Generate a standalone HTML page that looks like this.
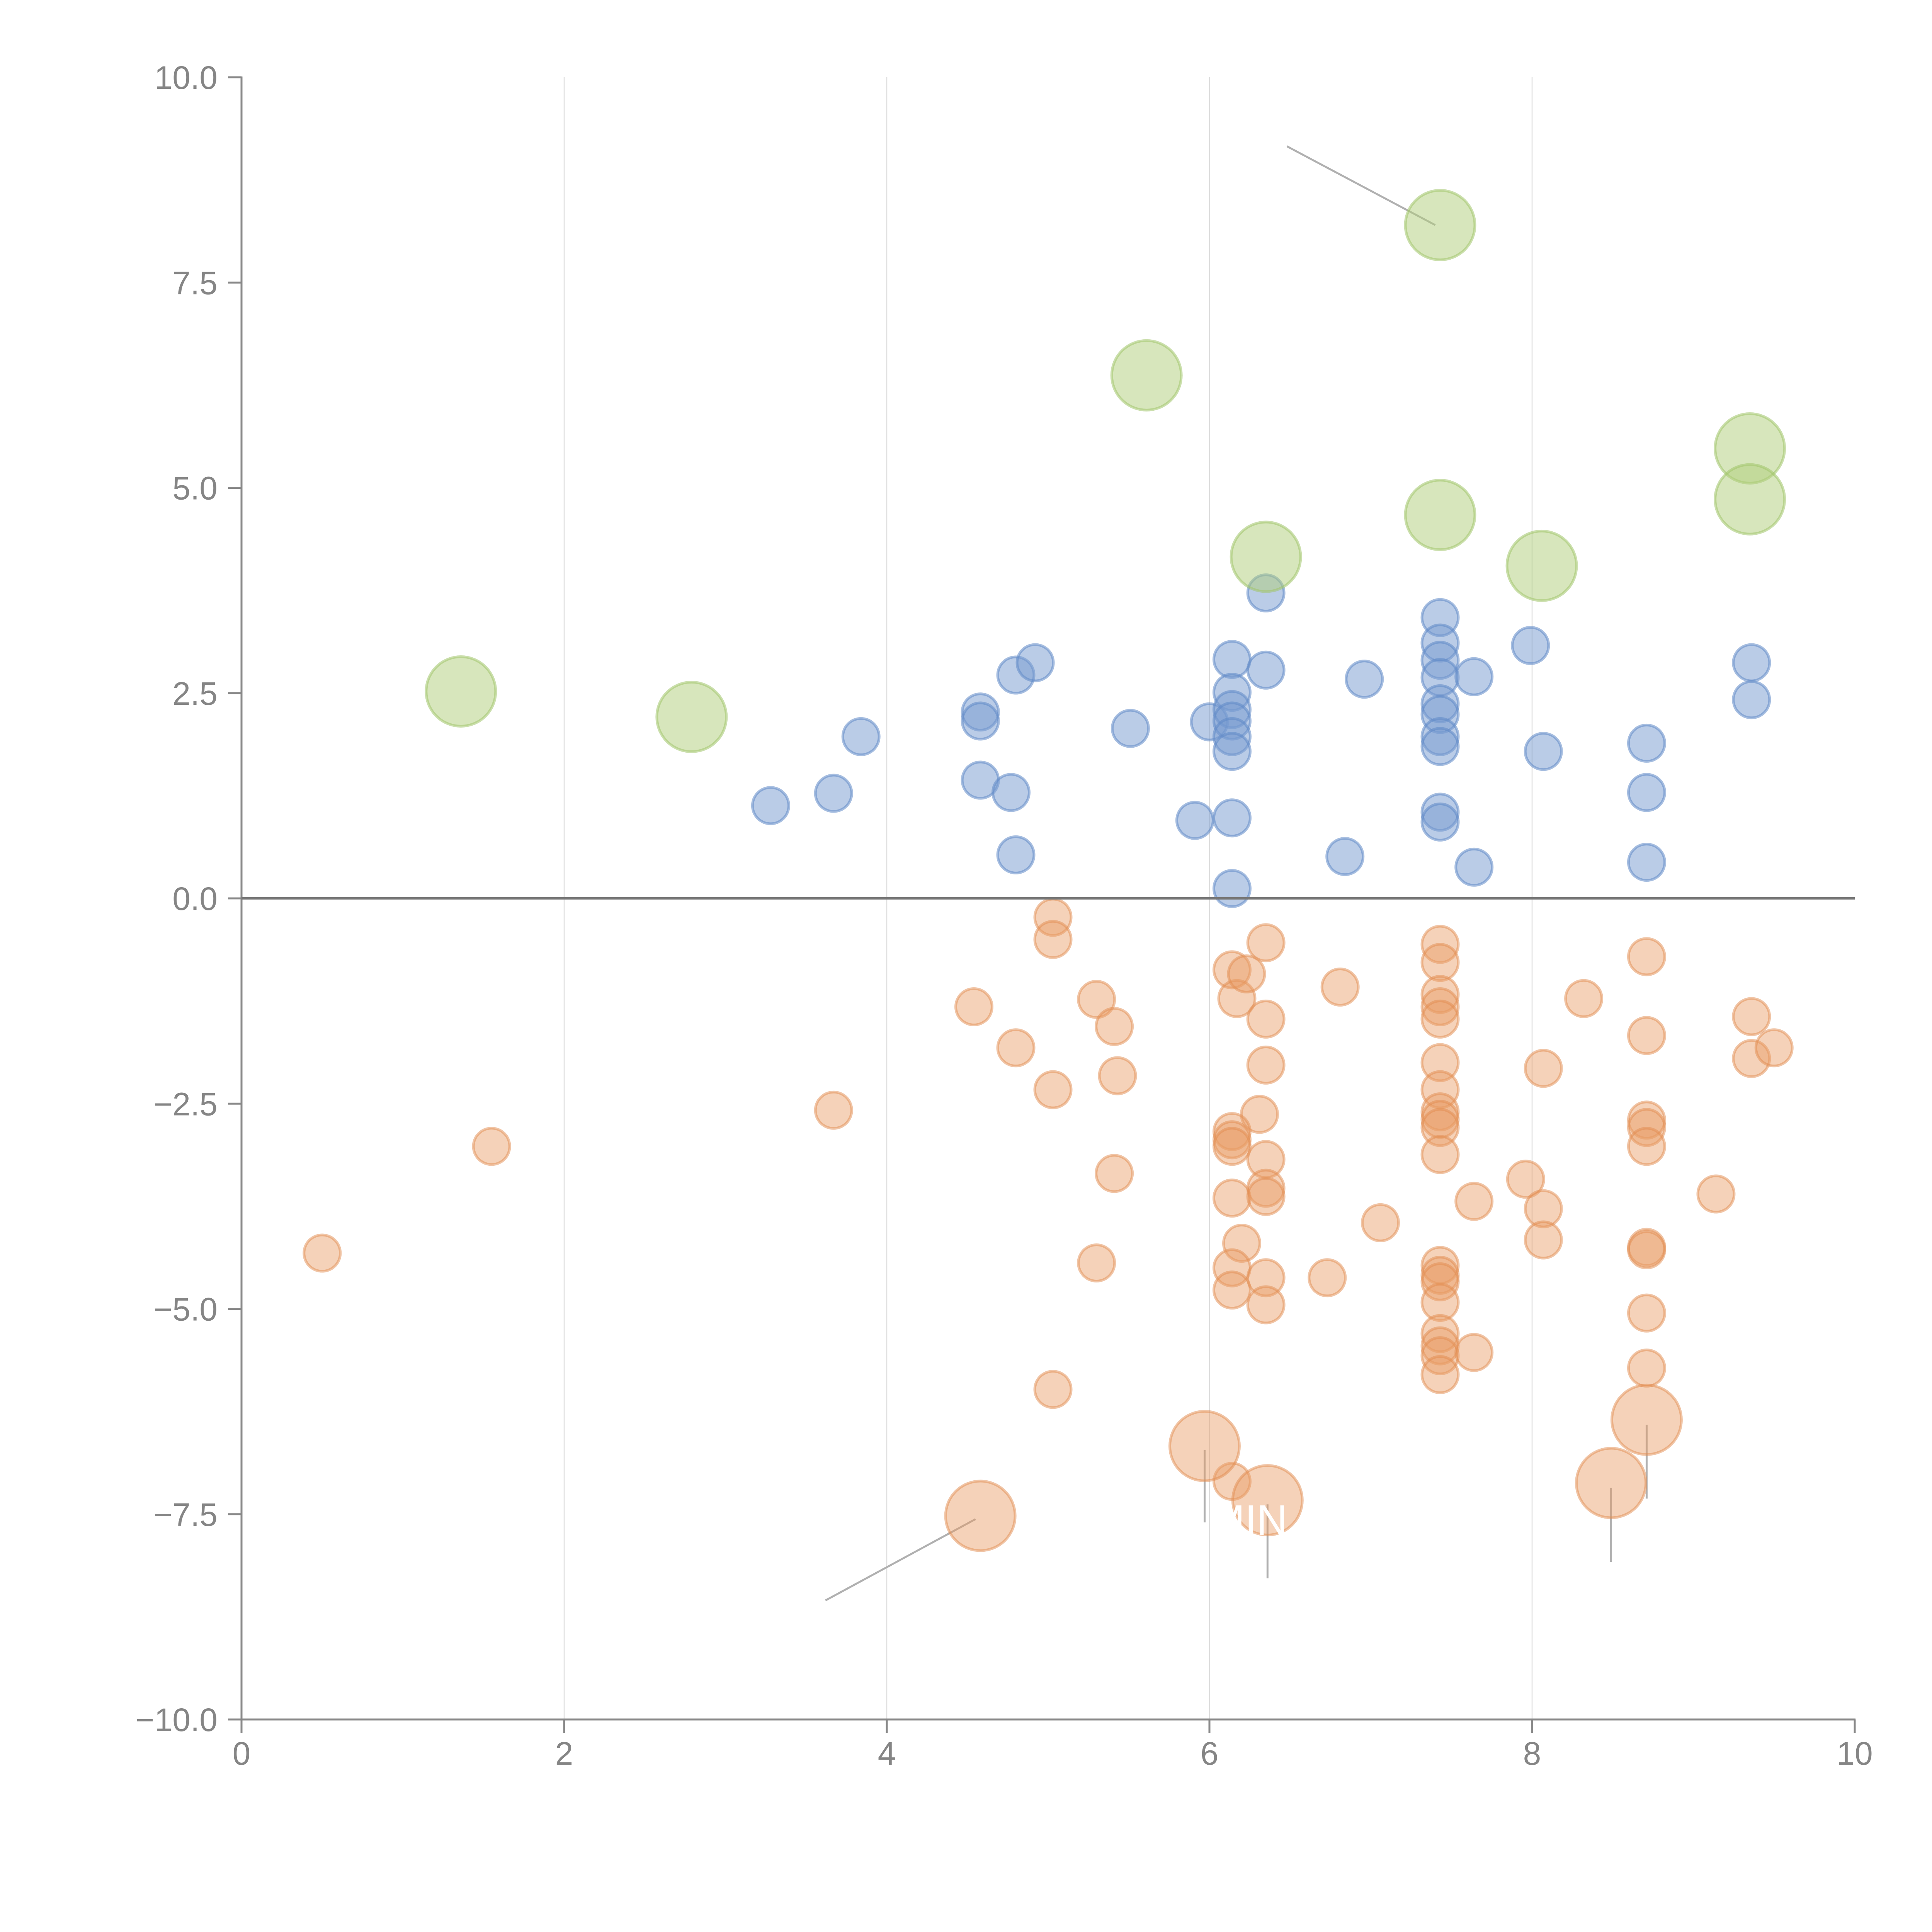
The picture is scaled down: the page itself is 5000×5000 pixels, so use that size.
<!DOCTYPE html>
<html><head><meta charset="utf-8"><style>
html,body{margin:0;padding:0;background:#fff;}
svg{display:block;font-family:"Liberation Sans",Arial,sans-serif;}
</style></head><body>
<svg id="chart" xmlns="http://www.w3.org/2000/svg" width="5000" height="5000" viewBox="0 0 5000 5000">
<rect width="5000" height="5000" fill="#fff"/>
<g id="grid"></g>
<g id="leaders"></g>
<g id="marks"></g>
<g id="axes"></g>
</svg>
<script>
const xTicks=[0,2,4,6,8,10];
const yTicks=[-10,-7.5,-5,-2.5,0,2.5,5,7.5,10];
const yTickLabels=["\u221210.0","\u22127.5","\u22125.0","\u22122.5","0.0","2.5","5.0","7.5","10.0"];
const blueX=[3.28,3.67,3.84,4.58,4.58,4.58,4.80,4.92,4.77,4.80,5.51,5.91,6.0,6.14,6.14,6.14,6.14,6.14,6.14,6.14,6.14,6.35,6.35,6.84,6.96,7.43,7.43,7.43,7.43,7.43,7.43,7.43,7.43,7.43,7.43,7.64,7.64,7.99,8.07,8.71,8.71,8.71,9.36,9.36];
const blueY=[1.13,1.28,1.97,2.27,2.16,1.44,2.72,2.87,1.29,0.53,2.07,0.95,2.15,2.91,2.51,2.30,2.16,1.97,1.79,0.98,0.12,3.72,2.78,0.51,2.67,3.42,3.11,2.90,2.69,2.37,2.24,1.97,1.85,1.05,0.93,2.70,0.38,3.08,1.79,1.89,1.29,0.44,2.87,2.42];
const orangeX=[0.50,1.55,3.67,4.54,4.80,5.03,5.03,5.03,5.03,5.30,5.30,5.41,5.43,5.41,6.14,6.17,6.23,6.35,6.35,6.35,6.31,6.14,6.14,6.14,6.14,6.20,6.14,6.14,6.35,6.35,6.35,6.35,6.35,6.73,6.81,7.06,7.43,7.43,7.43,7.43,7.43,7.43,7.43,7.43,7.43,7.43,7.43,7.43,7.43,7.43,7.43,7.43,7.43,7.43,7.43,7.64,7.64,7.96,8.07,8.07,8.07,8.32,8.71,8.71,8.71,8.71,8.71,8.71,8.71,8.71,8.71,9.14,9.36,9.36,9.50,6.14];
const orangeY=[-4.32,-3.02,-2.58,-1.32,-1.82,-0.23,-0.50,-2.33,-5.98,-1.23,-4.44,-1.56,-2.16,-3.35,-0.87,-1.22,-0.92,-0.54,-1.47,-2.03,-2.63,-2.84,-2.94,-3.02,-3.65,-4.20,-4.50,-4.77,-3.18,-3.53,-3.63,-4.62,-4.95,-4.62,-1.08,-3.95,-0.56,-0.78,-1.17,-1.32,-1.47,-2.00,-2.33,-2.60,-2.69,-2.79,-3.12,-4.47,-4.59,-4.67,-4.92,-5.30,-5.45,-5.57,-5.80,-3.69,-5.53,-3.42,-2.07,-3.78,-4.16,-1.22,-0.71,-1.67,-2.70,-2.79,-3.02,-4.25,-4.28,-5.05,-5.72,-3.60,-1.44,-1.95,-1.82,-7.10];
const orangeBigX=[4.58,5.97,6.36,8.49,8.71];
const orangeBigY=[-7.52,-6.67,-7.33,-7.12,-6.35];
const greenX=[1.36,2.79,5.61,6.35,7.43,7.43,8.06,9.35,9.35];
const greenY=[2.52,2.21,6.37,4.16,8.20,4.67,4.05,5.48,4.86];

const NS="http://www.w3.org/2000/svg";
const X0=625,X1=4800,Y0=4450,Y1=200;
function sx(v){return X0+(v-0)/(10-0)*(X1-X0);}
function sy(v){return Y0-(v+10)/20*(Y0-Y1);}
function mk(tag,attrs,parent){const e=document.createElementNS(NS,tag);for(const k in attrs)e.setAttribute(k,attrs[k]);parent.appendChild(e);return e;}
const grid=document.getElementById('grid'),axes=document.getElementById('axes'),marks=document.getElementById('marks'),leaders=document.getElementById('leaders');

xTicks.forEach(t=>{
  if(t>0&&t<10){const g=mk('line',{x1:sx(t),x2:sx(t),y1:sy(10),y2:sy(-10),stroke:'#dcdcdc','stroke-width':2.5},grid);
  
  }
  const tk=mk('line',{x1:sx(t),x2:sx(t),y1:Y0,y2:Y0+35,stroke:'#888','stroke-width':5},axes);
  
  
  const tx=mk('text',{x:sx(t),y:Y0+117,'text-anchor':'middle','font-size':84,fill:'#858585'},axes);
  tx.textContent=String(t);
  
  
});
yTicks.forEach((t,i)=>{
  const tk=mk('line',{x1:X0-35,x2:X0,y1:sy(t),y2:sy(t),stroke:'#888','stroke-width':5},axes);
  
  
  const tx=mk('text',{x:X0-62,y:sy(t)+30,'text-anchor':'end','font-size':84,fill:'#858585'},axes);
  tx.textContent=yTickLabels[i];
  
  
});
const ya=mk('line',{x1:X0,x2:X0,y1:Y1-2,y2:Y0,stroke:'#888','stroke-width':5},axes);


const xa=mk('line',{x1:X0-2,x2:X1+2,y1:Y0,y2:Y0,stroke:'#888','stroke-width':5},axes);


const zl=mk('line',{x1:X0,x2:X1,y1:sy(0),y2:sy(0),stroke:'#777','stroke-width':6},axes);



const leadA=[[6.48,9.16,7.40,8.20],[3.62,-8.55,4.55,-7.56],[5.97,-6.72,5.97,-7.6],[6.36,-7.38,6.36,-8.28],[8.49,-7.18,8.49,-8.08],[8.71,-6.41,8.71,-7.31]];
leadA.forEach(l=>{
  const e=mk('line',{x1:sx(l[0]),y1:sy(l[1]),x2:sx(l[2]),y2:sy(l[3]),stroke:'#b0b0b0','stroke-width':5},leaders);
  
  
});

function dots(xs,ys,r,fill,stroke,name){
  xs.forEach((x,i)=>{
    const c=mk('circle',{cx:sx(x),cy:sy(ys[i]),r:r,fill:fill,stroke:stroke,'stroke-width':7},marks);
    
    
  });
}
dots(blueX,blueY,47,'rgba(117,153,207,0.5)','rgba(95,137,199,0.55)','blue-point');
dots(orangeX,orangeY,47,'rgba(233,155,99,0.45)','rgba(226,140,80,0.5)','orange-point');
dots(orangeBigX,orangeBigY,90,'rgba(233,155,99,0.45)','rgba(226,140,80,0.5)','orange-large-point');
dots(greenX,greenY,90,'rgba(176,206,122,0.5)','rgba(160,196,105,0.55)','green-point');

const mt=mk('text',{x:sx(6.0),y:sy(-7.75),'font-size':110,fill:'#fff'},marks);
mt.textContent='MIN';


</script>
</body></html>
